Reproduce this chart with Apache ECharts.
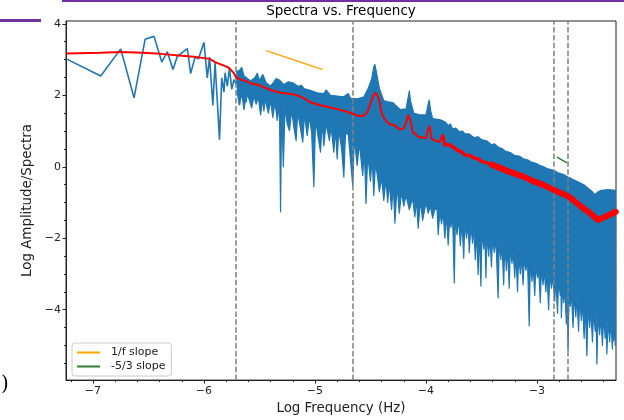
<!DOCTYPE html>
<html lang="en">
<head>
<meta charset="UTF-8">
<title>Spectra vs. Frequency</title>
<script src="https://cdn.jsdelivr.net/npm/echarts@6/dist/echarts.min.js"></script>
<style>
    html, body { margin: 0; padding: 0; background: #fff; }
    #main { width: 624px; height: 420px; }
</style>
</head>
<body>
<div id="main"></div>
<script type="text/javascript">
    // axis ticks
    var xTicks = [-7, -6, -5, -4, -3];
    var xMinor = [-7.2, -6.8, -6.6, -6.4, -6.2, -5.8, -5.6, -5.4, -5.2, -4.8, -4.6, -4.4, -4.2,
                  -3.8, -3.6, -3.4, -3.2, -2.8, -2.6, -2.4];
    var yTicks = [-4, -2, 0, 2, 4];
    var yMinor = [-5.5, -5, -4.5, -3.5, -3, -2.5, -1.5, -1, -0.5, 0.5, 1, 1.5, 2.5, 3, 3.5];

    // vertical dashed markers (log Hz)
    var vLines = [-5.713, -4.660, -2.847, -2.718];

    // spectrum, sparse low frequency part
    var lowBlue = [[-7.24,3.02],[-6.93,2.54],[-6.75,3.30],[-6.63,1.93],[-6.53,3.57],[-6.45,3.65],
        [-6.38,2.93],[-6.33,3.22],[-6.28,2.72],[-6.24,3.09],[-6.15,3.31],[-6.12,2.61],[-6.08,3.07],
        [-6.05,3.02],[-6.00,3.48],[-5.97,2.49],[-5.95,3.07],[-5.92,1.72],[-5.90,2.91],[-5.86,0.76],
        [-5.84,2.49],[-5.82,2.09],[-5.81,2.63],[-5.79,2.26],[-5.77,2.77],[-5.75,2.17],[-5.73,2.44],
        [-5.71,2.31],[-5.70,2.68],[-5.68,1.72],[-5.67,2.68],[-5.64,2.26],[-5.62,1.80],[-5.61,2.17],
        [-5.58,2.35]];

    // spectrum, dense part: upper envelope
    var bandUpper = [[-5.70,2.68],[-5.68,2.70],[-5.66,2.78],[-5.64,2.55],[-5.60,2.45],[-5.58,2.40],
        [-5.54,2.50],[-5.52,2.62],[-5.50,2.42],[-5.47,2.58],[-5.44,2.35],[-5.40,2.26],[-5.37,2.38],
        [-5.35,2.47],[-5.32,2.43],[-5.28,2.30],[-5.24,2.38],[-5.20,2.35],[-5.15,2.25],[-5.12,2.28],
        [-5.10,2.19],[-5.05,2.15],[-4.98,2.07],[-4.92,2.05],[-4.90,2.15],[-4.86,2.00],[-4.80,1.98],
        [-4.74,1.96],[-4.70,2.05],[-4.68,1.92],[-4.62,1.90],[-4.56,1.95],[-4.52,2.20],[-4.49,2.45],
        [-4.47,2.80],[-4.46,2.86],[-4.45,2.70],[-4.42,2.20],[-4.38,1.85],[-4.34,1.82],[-4.30,1.80],
        [-4.26,1.68],[-4.23,1.60],[-4.18,1.62],[-4.16,1.95],[-4.15,2.12],[-4.14,1.85],[-4.11,1.50],
        [-4.05,1.45],[-4.00,1.45],[-3.98,1.75],[-3.97,1.87],[-3.96,1.60],[-3.94,1.35],[-3.88,1.32],
        [-3.85,1.29],[-3.82,1.24],[-3.80,1.15],[-3.78,1.20],[-3.76,1.06],[-3.73,1.08],[-3.70,0.98],
        [-3.67,1.00],[-3.65,0.92],[-3.61,0.92],[-3.57,0.82],[-3.53,0.84],[-3.50,0.76],[-3.45,0.72],
        [-3.41,0.62],[-3.38,0.64],[-3.35,0.55],[-3.31,0.50],[-3.28,0.43],[-3.24,0.40],[-3.20,0.31],
        [-3.16,0.30],[-3.12,0.22],[-3.08,0.19],[-3.05,0.13],[-3.01,0.10],[-2.98,0.05],[-2.94,0.00],
        [-2.90,-0.06],[-2.85,-0.10],[-2.81,-0.17],[-2.76,-0.22],[-2.72,-0.29],[-2.66,-0.38],
        [-2.60,-0.47],[-2.57,-0.52],[-2.54,-0.60],[-2.50,-0.70],[-2.48,-0.78],[-2.45,-0.70],
        [-2.42,-0.66],[-2.36,-0.64],[-2.29,-0.66]];

    // spectrum, dense part: lower edge with the downward spikes
    var bandLower = [[-5.70,2.05],[-5.68,1.75],[-5.66,2.05],[-5.64,1.60],[-5.62,2.00],[-5.60,1.95],
        [-5.57,1.65],[-5.55,1.98],[-5.53,1.75],[-5.51,1.95],[-5.49,1.45],[-5.47,1.90],[-5.46,1.56],
        [-5.45,1.90],[-5.42,1.50],[-5.40,1.85],[-5.38,1.38],[-5.36,1.80],[-5.34,1.30],[-5.32,1.72],
        [-5.31,-1.26],[-5.30,1.70],[-5.285,0.00],[-5.27,1.65],[-5.25,1.20],[-5.23,1.01],[-5.21,1.58],
        [-5.19,1.10],[-5.17,0.73],[-5.155,1.52],[-5.13,1.05],[-5.11,0.69],[-5.095,1.46],[-5.07,0.87],
        [-5.05,1.40],[-5.03,0.95],[-5.01,-0.56],[-4.995,1.33],[-4.97,0.80],[-4.95,0.41],[-4.935,1.25],
        [-4.92,0.59],[-4.90,1.20],[-4.87,0.73],[-4.855,1.12],[-4.83,0.41],[-4.815,1.06],[-4.80,0.22],
        [-4.785,1.02],[-4.76,0.50],[-4.74,-0.29],[-4.725,0.94],[-4.70,0.90],[-4.68,0.20],[-4.66,-0.52],
        [-4.645,0.78],[-4.62,0.04],[-4.60,0.65],[-4.57,-0.24],[-4.555,0.45],[-4.54,-1.03],[-4.525,0.35],
        [-4.50,-0.40],[-4.485,0.25],[-4.47,-0.80],[-4.455,0.10],[-4.44,-0.20],[-4.42,-0.70],[-4.40,-0.30],
        [-4.38,-0.94],[-4.36,-0.35],[-4.345,-1.00],[-4.33,-0.45],[-4.31,-1.20],[-4.295,-0.50],
        [-4.28,-1.58],[-4.26,-0.52],[-4.24,-1.30],[-4.22,-0.70],[-4.20,-1.10],[-4.18,-0.80],
        [-4.15,-1.20],[-4.12,-0.88],[-4.10,-1.40],[-4.085,-0.92],[-4.07,-1.72],[-4.05,-0.95],
        [-4.03,-1.50],[-4.00,-1.00],[-3.98,-1.30],[-3.96,-1.10],[-3.94,-1.44],[-3.92,-1.18],
        [-3.90,-1.20],[-3.89,-1.90],[-3.875,-1.25],[-3.86,-1.60],[-3.845,-1.28],[-3.83,-2.00],
        [-3.815,-1.32],[-3.80,-2.19],[-3.785,-1.38],[-3.775,-1.70],[-3.76,-1.40],[-3.745,-3.25],
        [-3.735,-1.43],[-3.72,-1.90],[-3.705,-1.47],[-3.69,-2.20],[-3.675,-1.52],[-3.66,-2.56],
        [-3.65,-1.55],[-3.635,-2.00],[-3.62,-1.60],[-3.61,-2.40],[-3.595,-1.64],[-3.58,-2.14],
        [-3.57,-1.68],[-3.555,-2.60],[-3.545,-1.72],[-3.53,-3.02],[-3.52,-1.75],[-3.505,-3.34],
        [-3.495,-1.78],[-3.48,-2.30],[-3.47,-1.82],[-3.46,-3.11],[-3.45,-1.86],[-3.435,-2.50],
        [-3.425,-1.90],[-3.41,-2.80],[-3.40,-1.95],[-3.385,-2.40],[-3.37,-2.02],[-3.35,-3.67],
        [-3.34,-2.07],[-3.325,-2.60],[-3.315,-2.12],[-3.30,-3.30],[-3.29,-2.16],[-3.275,-2.90],
        [-3.265,-2.20],[-3.25,-3.40],[-3.24,-2.25],[-3.225,-2.70],[-3.215,-2.32],[-3.20,-3.10],
        [-3.19,-2.38],[-3.175,-3.50],[-3.165,-2.45],[-3.15,-3.00],[-3.14,-2.50],[-3.125,-3.30],
        [-3.115,-2.56],[-3.10,-2.90],[-3.085,-2.62],[-3.07,-4.45],[-3.06,-2.68],[-3.045,-3.20],
        [-3.035,-2.74],[-3.02,-3.60],[-3.01,-2.78],[-2.995,-3.10],[-2.985,-2.82],[-2.97,-3.80],
        [-2.96,-2.85],[-2.945,-3.30],[-2.935,-2.89],[-2.92,-3.50],[-2.91,-2.92],[-2.895,-4.00],
        [-2.885,-2.98],[-2.87,-3.40],[-2.86,-3.05],[-2.84,-3.76],[-2.83,-3.12],[-2.815,-4.10],
        [-2.805,-3.18],[-2.79,-3.60],[-2.785,-3.24],[-2.78,-4.22],[-2.77,-3.30],[-2.76,-3.80],
        [-2.75,-3.38],[-2.735,-4.40],[-2.728,-3.42],[-2.72,-5.15],[-2.71,-3.46],[-2.70,-3.90],
        [-2.69,-3.50],[-2.675,-4.50],[-2.665,-3.56],[-2.65,-4.20],[-2.64,-3.62],[-2.625,-4.60],
        [-2.615,-3.70],[-2.60,-4.30],[-2.59,-3.78],[-2.575,-4.80],[-2.565,-3.84],[-2.55,-5.29],
        [-2.54,-3.90],[-2.525,-4.50],[-2.515,-3.96],[-2.50,-4.90],[-2.49,-4.02],[-2.475,-4.60],
        [-2.468,-4.06],[-2.46,-5.52],[-2.45,-4.12],[-2.435,-4.70],[-2.425,-4.16],[-2.41,-5.00],
        [-2.40,-4.20],[-2.385,-4.80],[-2.378,-4.24],[-2.37,-5.24],[-2.36,-4.28],[-2.345,-4.90],
        [-2.335,-4.32],[-2.32,-5.10],[-2.315,-4.36],[-2.31,-4.87],[-2.30,-4.40],[-2.295,-5.00],
        [-2.29,-4.41]];

    // smoothed spectrum (red), split where it gets noisier
    var redLow = [[-7.24,3.17],[-6.93,3.19],[-6.75,3.21],[-6.55,3.19],[-6.39,3.16],[-6.20,3.11],
        [-6.09,3.08],[-5.95,3.02],[-5.90,2.93],[-5.86,2.88],[-5.82,2.83],[-5.78,2.78],[-5.76,2.72],
        [-5.73,2.62],[-5.71,2.50],[-5.67,2.44],[-5.62,2.40],[-5.58,2.34],[-5.50,2.28],[-5.40,2.15],
        [-5.31,2.07],[-5.22,2.04],[-5.16,2.00],[-5.10,1.92],[-5.04,1.80],[-4.95,1.72],[-4.86,1.66],
        [-4.78,1.60],[-4.71,1.54],[-4.64,1.46],[-4.60,1.42],[-4.56,1.43],[-4.53,1.52],[-4.51,1.68],
        [-4.48,1.95],[-4.46,2.06],[-4.44,2.03],[-4.42,1.85],[-4.40,1.50],[-4.37,1.32],[-4.33,1.20],
        [-4.29,1.17],[-4.23,1.04],[-4.20,1.08],[-4.18,1.22],[-4.16,1.45],[-4.14,1.30],[-4.12,0.98],
        [-4.07,0.84],[-4.00,0.80],[-3.98,1.05],[-3.97,1.15],[-3.96,1.00],[-3.95,0.78],[-3.88,0.69],
        [-3.86,0.82],[-3.85,0.87]];
    var redMid = [[-3.85,0.87],[-3.83,0.62],[-3.79,0.62],[-3.76,0.56],[-3.71,0.45],[-3.68,0.42],
        [-3.65,0.33],[-3.61,0.32],[-3.57,0.25],[-3.53,0.22],[-3.50,0.15],[-3.45,0.11],[-3.41,0.06]];
    var redHigh = [[-3.41,0.06],[-3.35,-0.01],[-3.28,-0.10],[-3.20,-0.19],[-3.12,-0.28],[-3.05,-0.38],
        [-2.95,-0.50],[-2.84,-0.66],[-2.71,-0.84],[-2.60,-1.12],[-2.52,-1.30],[-2.45,-1.49],
        [-2.40,-1.42],[-2.35,-1.35],[-2.29,-1.26]];

    // reference slopes
    var slopeOneF = [[-5.44,3.25],[-4.93,2.72]];
    var slopeFiveThirds = [[-2.82,0.27],[-2.73,0.11]];

    var xMin = -7.243, xMax = -2.288, yMin = -5.97, yMax = 4.08;

    function fmt(v) {
        return v < 0 ? '\u2212' + (-v) : '' + v;
    }

    function renderBand(params, api) {
        var pts = [];
        for (var i = 0; i < bandUpper.length; i++) pts.push(api.coord(bandUpper[i]));
        for (var j = bandLower.length - 1; j >= 0; j--) pts.push(api.coord(bandLower[j]));
        return {
            type: 'polygon',
            shape: { points: pts },
            style: { fill: '#1f77b4', stroke: '#1f77b4', lineWidth: 1.2, lineJoin: 'round' }
        };
    }

    var myChart = echarts.init(document.getElementById('main'));
    var option = {
        animation: false,
        textStyle: { fontFamily: 'DejaVu Sans' },
        title: {
            text: 'Spectra vs. Frequency',
            left: 341, top: 4, textAlign: 'center', padding: 0,
            textStyle: { fontSize: 13.5, fontWeight: 'normal', color: '#000' }
        },
        legend: {
            data: [{ name: '1/f slope', icon: 'rect' }, { name: '-5/3 slope', icon: 'rect' }],
            orient: 'vertical',
            left: 72, top: 343,
            itemWidth: 23, itemHeight: 2, itemGap: 3,
            padding: [4, 6, 4, 5],
            backgroundColor: 'rgba(255,255,255,0.8)',
            borderColor: '#cccccc', borderWidth: 1, borderRadius: 3,
            selectedMode: false,
            textStyle: { fontSize: 11, color: '#222', padding: [0, 0, 0, 6] }
        },
        grid: {
            left: 66, right: 8, top: 21, bottom: 37,
            show: true, borderColor: '#222', borderWidth: 1
        },
        xAxis: [{
            type: 'value', min: xMin, max: xMax,
            name: 'Log Frequency (Hz)', nameLocation: 'middle', nameGap: 19,
            nameTextStyle: { fontSize: 13.4, color: '#222' },
            axisLine: { show: true, onZero: false, lineStyle: { color: '#222', width: 1 } },
            axisTick: { show: true, length: 3.5, customValues: xTicks, lineStyle: { color: '#222' } },
            axisLabel: { customValues: xTicks, formatter: fmt, fontSize: 11, color: '#222', margin: 6 },
            splitLine: { show: false }
        }, {
            type: 'value', min: xMin, max: xMax, position: 'bottom',
            axisLine: { show: false, onZero: false },
            axisTick: { show: true, length: 2, customValues: xMinor, lineStyle: { color: '#222' } },
            axisLabel: { show: false },
            splitLine: { show: false }
        }],
        yAxis: [{
            type: 'value', min: yMin, max: yMax,
            name: 'Log Amplitude/Spectra', nameLocation: 'middle', nameGap: 30,
            nameTextStyle: { fontSize: 13.4, color: '#222' },
            axisLine: { show: true, onZero: false, lineStyle: { color: '#222', width: 1 } },
            axisTick: { show: true, length: 3.5, customValues: yTicks, lineStyle: { color: '#222' } },
            axisLabel: { customValues: yTicks, formatter: fmt, fontSize: 11, color: '#222', margin: 5 },
            splitLine: { show: false }
        }, {
            type: 'value', min: yMin, max: yMax, position: 'left',
            axisLine: { show: false, onZero: false },
            axisTick: { show: true, length: 2, customValues: yMinor, lineStyle: { color: '#222' } },
            axisLabel: { show: false },
            splitLine: { show: false }
        }],
        graphic: [
            { type: 'rect', shape: { x: 62, y: 0, width: 562, height: 2 }, style: { fill: '#7030a0' } },
            { type: 'rect', shape: { x: 0, y: 19, width: 41, height: 3 }, style: { fill: '#7030a0' } },
            { type: 'text', left: 1, top: 375, style: { text: ')', font: '20px "DejaVu Serif"', fill: '#000' } }
        ],
        series: [{
            name: 'spectrum band',
            type: 'custom',
            renderItem: renderBand,
            data: [bandUpper[0]],
            encode: { x: 0, y: 1 },
            clip: true, silent: true, z: 2
        }, {
            name: 'spectrum',
            type: 'line',
            data: lowBlue,
            symbol: 'none',
            lineStyle: { color: '#1f77b4', width: 1.6 },
            itemStyle: { color: '#1f77b4' },
            z: 2,
            markLine: {
                silent: true, symbol: ['none', 'none'],
                label: { show: false },
                lineStyle: { color: '#808080', width: 1.5, type: [5.5, 2.4] },
                data: vLines.map(function (v) { return { xAxis: v }; })
            }
        }, {
            name: '1/f slope',
            type: 'line',
            data: slopeOneF,
            symbol: 'none',
            lineStyle: { color: '#ffa500', width: 1.5 },
            itemStyle: { color: '#ffa500' },
            z: 4
        }, {
            name: '-5/3 slope',
            type: 'line',
            data: slopeFiveThirds,
            symbol: 'none',
            lineStyle: { color: '#2e7d32', width: 1.5 },
            itemStyle: { color: '#2e7d32' },
            z: 4
        }, {
            name: 'smooth',
            type: 'line', data: redLow, symbol: 'none',
            lineStyle: { color: '#ff0000', width: 2 }, z: 6
        }, {
            name: 'smooth mid',
            type: 'line', data: redMid, symbol: 'none',
            lineStyle: { color: '#ff0000', width: 3.5, cap: 'round', join: 'round' }, z: 6
        }, {
            name: 'smooth high',
            type: 'line', data: redHigh, symbol: 'none',
            lineStyle: { color: '#ff0000', width: 6, cap: 'round', join: 'round' }, z: 6
        }]
    };
    myChart.setOption(option);
</script>
</body>
</html>
